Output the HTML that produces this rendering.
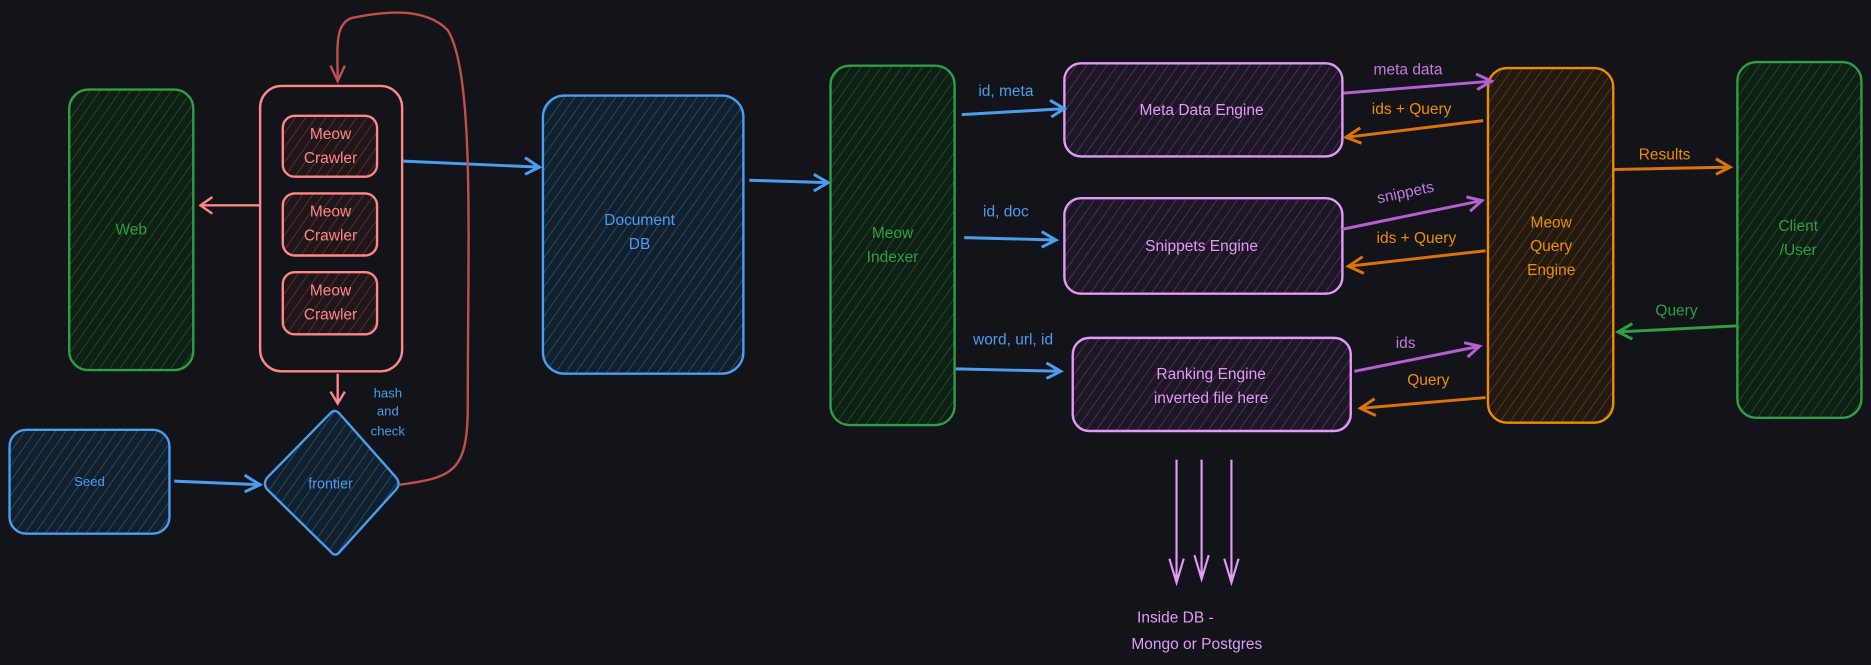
<!DOCTYPE html>
<html><head><meta charset="utf-8"><style>
html,body{margin:0;padding:0;background:#121419;}
svg{display:block}
text{font-family:"Liberation Sans",sans-serif;text-anchor:middle;dominant-baseline:middle;}
</style></head><body>
<svg width="1871" height="665" viewBox="0 0 1568 557" preserveAspectRatio="none" xmlns="http://www.w3.org/2000/svg">
<defs>
<pattern id="hg" width="7" height="7" patternUnits="userSpaceOnUse" patternTransform="rotate(35)"><rect width="7" height="7" fill="#0f1f14"/><line x1="0" y1="0" x2="0" y2="7" stroke="#1f5a2c" stroke-width="1.2"/></pattern>
<pattern id="hb" width="7" height="7" patternUnits="userSpaceOnUse" patternTransform="rotate(35)"><rect width="7" height="7" fill="#12202e"/><line x1="0" y1="0" x2="0" y2="7" stroke="#235a85" stroke-width="1.2"/></pattern>
<pattern id="hr" width="7" height="7" patternUnits="userSpaceOnUse" patternTransform="rotate(35)"><rect width="7" height="7" fill="#1e1618"/><line x1="0" y1="0" x2="0" y2="7" stroke="#6a3535" stroke-width="1.2"/></pattern>
<pattern id="hp" width="7" height="7" patternUnits="userSpaceOnUse" patternTransform="rotate(35)"><rect width="7" height="7" fill="#1d1624"/><line x1="0" y1="0" x2="0" y2="7" stroke="#5c3a66" stroke-width="1.2"/></pattern>
<pattern id="ho" width="7" height="7" patternUnits="userSpaceOnUse" patternTransform="rotate(35)"><rect width="7" height="7" fill="#221a10"/><line x1="0" y1="0" x2="0" y2="7" stroke="#6a4210" stroke-width="1.2"/></pattern>
</defs>
<g stroke-width="2" font-size="13">
<!-- Web -->
<rect x="58" y="75" width="104" height="235" rx="16" fill="url(#hg)" stroke="#2f9e44"/>
<text x="110" y="193" fill="#2f9e44" stroke="none">Web</text>
<!-- crawler container -->
<rect x="218" y="72" width="119" height="239" rx="18" fill="none" stroke="#ff8787"/>
<rect x="237" y="97" width="79" height="51" rx="10" fill="url(#hr)" stroke="#ff8787"/>
<rect x="237" y="162" width="79" height="52" rx="10" fill="url(#hr)" stroke="#ff8787"/>
<rect x="237" y="228" width="79" height="52" rx="10" fill="url(#hr)" stroke="#ff8787"/>
<g fill="#ff8787" stroke="none"><text x="277" y="113">Meow</text><text x="277" y="133">Crawler</text>
<text x="277" y="178">Meow</text><text x="277" y="198">Crawler</text>
<text x="277" y="244">Meow</text><text x="277" y="264">Crawler</text></g>
<path d="M218 172 L168 172 M178 165 L168 172 L178 179" fill="none" stroke="#ff8787"/>
<path d="M283 313 L283 338 M277 328 L283 338 L289 328" fill="none" stroke="#ff8787"/>
<g fill="#4a9eed" stroke="none" font-size="11"><text x="325" y="330">hash</text><text x="325" y="345">and</text><text x="325" y="362">check</text></g>
<!-- Document DB -->
<rect x="455" y="80" width="168" height="233" rx="18" fill="url(#hb)" stroke="#4a9eed"/>
<text x="536" y="185" fill="#4a9eed" stroke="none">Document</text><text x="536" y="205" fill="#4a9eed" stroke="none">DB</text>
<path d="M338 135 L452 140 M440 132 L452 140 L440 146" fill="none" stroke="#4a9eed" stroke-width="2.5"/>
<!-- Seed -->
<rect x="8" y="360" width="134" height="87" rx="14" fill="url(#hb)" stroke="#4a9eed"/>
<text x="75" y="404" fill="#4a9eed" stroke="none" font-size="11">Seed</text>
<path d="M277 346 Q281 342 285 347 L332 400 Q336 405 332 410 L285 462 Q281 467 277 462 L224 410 Q220 405 224 400 Z" fill="url(#hb)" stroke="#4a9eed"/>
<text x="277" y="406" fill="#4a9eed" stroke="none" font-size="12">frontier</text>
<path d="M146 403 L218 406 M205 398 L218 406 L205 412" fill="none" stroke="#4a9eed" stroke-width="2.5"/>
<!-- loop -->
<path d="M335 406 C380 400 392 395 392 340 C392 200 398 60 375 25 C355 5 320 10 295 15 C280 20 283 40 283 68 M277 55 L283 68 L289 55" fill="none" stroke="#c0504d"/>
<!-- docdb->indexer -->
<path d="M628 151 L694 153 M682 146 L694 153 L682 160" fill="none" stroke="#4a9eed" stroke-width="2.5"/>
<!-- Indexer -->
<rect x="696" y="55" width="104" height="301" rx="16" fill="url(#hg)" stroke="#2f9e44"/>
<text x="748" y="196" fill="#2f9e44" stroke="none">Meow</text><text x="748" y="216" fill="#2f9e44" stroke="none">Indexer</text>
<!-- Engines -->
<rect x="892" y="53" width="233" height="78" rx="14" fill="url(#hp)" stroke="#e599f7"/>
<text x="1007" y="93" fill="#e599f7" stroke="none">Meta Data Engine</text>
<rect x="892" y="166" width="233" height="80" rx="14" fill="url(#hp)" stroke="#e599f7"/>
<text x="1007" y="207" fill="#e599f7" stroke="none">Snippets Engine</text>
<rect x="899" y="283" width="233" height="78" rx="14" fill="url(#hp)" stroke="#e599f7"/>
<text x="1015" y="314" fill="#e599f7" stroke="none">Ranking Engine</text><text x="1015" y="334" fill="#e599f7" stroke="none">inverted file here</text>
<g fill="none" stroke="#4a9eed" stroke-width="2.5">
<path d="M806 96 L892 91 M880 84 L892 91 L881 98"/>
<path d="M808 199 L885 201 M873 194 L885 201 L873 207"/>
<path d="M801 309 L889 311 M877 304 L889 311 L877 317"/>
</g>
<g fill="#4a9eed" stroke="none"><text x="843" y="77">id, meta</text><text x="843" y="178">id, doc</text><text x="849" y="285">word, url, id</text></g>
<!-- Query engine -->
<rect x="1247" y="57" width="105" height="297" rx="16" fill="url(#ho)" stroke="#f08c00"/>
<g fill="#f08c00" stroke="none"><text x="1300" y="187">Meow</text><text x="1300" y="207">Query</text><text x="1300" y="227">Engine</text></g>
<!-- Client -->
<rect x="1456" y="52" width="104" height="298" rx="16" fill="url(#hg)" stroke="#2f9e44"/>
<g fill="#2f9e44" stroke="none"><text x="1507" y="190">Client</text><text x="1507" y="210">/User</text></g>
<g fill="none" stroke-width="2.5">
<path d="M1126 78 L1250 68 M1237 62 L1250 68 L1238 75" stroke="#b55fd0"/>
<path d="M1243 101 L1128 115 M1140 107 L1128 115 L1141 120" stroke="#e8590c" style="stroke:#d9730a"/>
<path d="M1125 192 L1242 168 M1229 165 L1242 168 L1232 177" stroke="#b55fd0"/>
<path d="M1245 210 L1130 223 M1142 215 L1130 223 L1143 229" stroke="#d9730a"/>
<path d="M1135 311 L1240 290 M1227 287 L1240 290 L1230 299" stroke="#b55fd0"/>
<path d="M1245 333 L1140 342 M1152 334 L1140 342 L1153 348" stroke="#d9730a"/>
<path d="M1353 142 L1450 140 M1438 133 L1450 140 L1438 146" stroke="#d9730a"/>
<path d="M1455 273 L1356 278 M1368 271 L1356 278 L1368 284" stroke="#2f9e44"/>
</g>
<g stroke="none"><text x="1180" y="59" fill="#c678e0">meta data</text><text x="1183" y="92" fill="#f08c00">ids + Query</text>
<text x="1178" y="162" fill="#c678e0" transform="rotate(-12 1178 162)">snippets</text><text x="1187" y="200" fill="#f08c00">ids + Query</text>
<text x="1178" y="288" fill="#c678e0">ids</text><text x="1197" y="319" fill="#f08c00">Query</text>
<text x="1395" y="130" fill="#f08c00">Results</text><text x="1405" y="261" fill="#2f9e44">Query</text></g>
<g fill="none" stroke="#e599f7" stroke-width="1.8">
<path d="M986 385 L986 488 M980 468 L986 488 L992 468"/>
<path d="M1007 385 L1007 485 M1001 465 L1007 485 L1013 465"/>
<path d="M1032 385 L1032 488 M1026 468 L1032 488 L1038 468"/>
</g>
<text x="985" y="518" fill="#e599f7" stroke="none">Inside DB -</text>
<text x="1003" y="540" fill="#e599f7" stroke="none">Mongo or Postgres</text>
</g>
</svg>
</body></html>
